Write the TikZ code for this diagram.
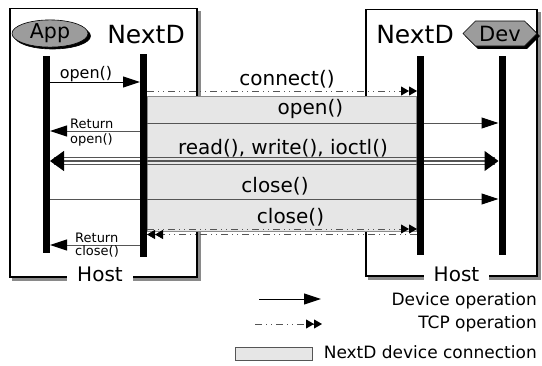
\documentclass[tikz,border=0pt]{standalone}
\usepackage{fontspec}
\setmainfont{DejaVu Sans}
\usetikzlibrary{arrows.meta,shapes.geometric,shapes.symbols,shadows}
\pgfdeclarelayer{fg}
\pgfsetlayers{main,fg}
\definecolor{connfill}{HTML}{E6E6E6}
\definecolor{connedge}{HTML}{8C8C8C}
\definecolor{msggray}{HTML}{555555}
\definecolor{actorfill}{HTML}{9C9C9C}
\definecolor{shadowgray}{HTML}{8A8A8A}
\tikzset{
  lifeline/.style={fill=black, draw=none, inner sep=0pt, outer sep=0pt, minimum width=7pt},
  hostshadow/.style={fill=shadowgray, draw=shadowgray, line width=1.5pt, inner sep=0pt},
  hostbox/.style={draw=black, line width=1.5pt, fill=white, inner sep=0pt},
  hostlabel/.style={fill=white, inner xsep=10pt, inner ysep=1.5pt, anchor=base,
    font=\fontsize{20}{24}\selectfont},
  procname/.style={anchor=base, inner sep=0pt, font=\fontsize{25}{30}\selectfont},
  actorshadow/.style={fill=black, draw=black, line width=0.6pt, inner sep=0pt},
  actor/.style={draw=black, line width=0.6pt, fill=actorfill, inner sep=0pt},
  connbox/.style={draw=connedge, line width=0.8pt, fill=connfill, inner sep=0pt},
  devop/.style={draw=msggray, line width=1pt, arrows={-Triangle[length=17pt,width=11pt,color=black]}},
  tcpop/.style={draw=msggray, line width=0.8pt,
    dash pattern=on 7pt off 4pt on 1pt off 4pt on 1pt off 4pt,
    arrows={-Triangle[length=8pt,width=9pt,color=black]Triangle[length=8pt,width=9pt,color=black]}},
  rwline/.style={draw=msggray, line width=1.2pt},
  rwtips/.style={arrows={Triangle[length=14pt,width=20pt,color=black]-Triangle[length=14pt,width=20pt,color=black]}},
  msglbl/.style={anchor=base, inner sep=0pt, font=\fontsize{20}{24}\selectfont},
  smalllbl/.style={anchor=base, inner sep=0pt, font=\fontsize{16}{19}\selectfont},
  retlbl/.style={anchor=base west, inner sep=0pt, font=\fontsize{13}{15}\selectfont},
  legendlbl/.style={anchor=base east, inner sep=0pt, font=\fontsize{17}{20}\selectfont},
}
\begin{document}
\begin{tikzpicture}[x=1pt,y=-1pt]
\useasboundingbox (0,0) rectangle (542,365);
% host boxes with shadows
\node[hostshadow, minimum width=187pt, minimum height=268.5pt] (hostLsh) at (106.5,145.75) {};
\node[hostshadow, minimum width=171pt, minimum height=266.5pt] (hostRsh) at (454.5,145.75) {};
\node[hostbox, minimum width=187pt, minimum height=268.5pt] (hostL) at (103.5,142.75) {};
\node[hostbox, minimum width=171pt, minimum height=266.5pt] (hostR) at (451.5,142.75) {};
% NextD connection area
\node[connbox, minimum width=269pt, minimum height=135pt] (conn) at (281.5,163.5) {};
% lifelines
\begin{pgfonlayer}{fg}
\node[lifeline, minimum height=197pt] (app) at (46.5,154.5) {};
\node[lifeline, minimum height=203pt] (nl) at (143.5,155.5) {};
\node[lifeline, minimum height=199pt] (nr) at (420.5,155.5) {};
\node[lifeline, minimum height=199pt] (dev) at (502,155.5) {};
\end{pgfonlayer}
% actors with shadows
\node[actorshadow, ellipse, minimum width=76pt, minimum height=26pt] (appsh) at (52.5,36) {};
\node[actor, ellipse, minimum width=76pt, minimum height=26pt, font=\fontsize{20.5}{24}\selectfont] (appact) at (50,33.5) {App};
\node[actorshadow, signal, signal to=west and east, minimum width=74pt, minimum height=25pt] (devsh) at (502.5,36) {};
\node[actor, signal, signal to=west and east, minimum width=74pt, minimum height=25pt, font=\fontsize{21}{25}\selectfont] (devact) at (500,33.5) {Dev};
\node[procname] (nextdL) at (146,43) {NextD};
\node[procname] (nextdR) at (415,43) {NextD};
% message rows
\coordinate (m1) at (0,82);
\coordinate (m2) at (0,91);
\coordinate (m3) at (0,123);
\coordinate (m4) at (0,131);
\coordinate (r1) at (0,157.5);
\coordinate (r2) at (0,161);
\coordinate (r3) at (0,164.5);
\coordinate (m6) at (0,199);
\coordinate (m7) at (0,229);
\coordinate (m8) at (0,234.5);
\coordinate (m9) at (0,245);
% messages
\draw[devop, draw=black] (app.east |- m1) -- (nl.west |- m1);
\node[smalllbl] (lopen1) at (86,78) {open()};
\draw[tcpop] (nl.east |- m2) -- (nr.west |- m2);
\node[msglbl] (lconnect) at (287,85) {connect()};
\draw[devop] (nl.east |- m3) -- (dev.west |- m3);
\node[msglbl] (lopen2) at (310.5,114.5) {open()};
\draw[devop] (nl.west |- m4) -- (app.east |- m4);
\node[retlbl] (lret1a) at (70,128) {Return};
\node[retlbl] (lret1b) at (70,143) {open()};
\draw[rwline, shorten <=4pt, shorten >=4pt] (app.east |- r1) -- (dev.west |- r1);
\draw[rwline, shorten <=4pt, shorten >=4pt] (app.east |- r3) -- (dev.west |- r3);
\draw[rwline, rwtips] (app.east |- r2) -- (dev.west |- r2);
\node[msglbl] (lrw) at (283,154) {read(), write(), ioctl()};
\draw[devop] (app.east |- m6) -- (dev.west |- m6);
\node[msglbl] (lclose1) at (275,192) {close()};
\draw[tcpop] (nl.east |- m7) -- (nr.west |- m7);
\draw[tcpop] (nr.west |- m8) -- (nl.east |- m8);
\node[msglbl] (lclose2) at (290.5,223) {close()};
\draw[devop] (nl.west |- m9) -- (app.east |- m9);
\node[retlbl] (lret2a) at (75,242) {Return};
\node[retlbl] (lret2b) at (75,255.5) {close()};
% host labels
\node[hostlabel] (hostLlbl) at (100,281) {Host};
\node[hostlabel] (hostRlbl) at (456.5,281) {Host};
% legend
\coordinate (lgA1) at (259,299);
\coordinate (lgA2) at (321,299);
\draw[devop, draw=black] (lgA1) -- (lgA2);
\node[legendlbl] (lgAlbl) at (537,305) {Device operation};
\coordinate (lgB1) at (255,324);
\coordinate (lgB2) at (322,324);
\draw[tcpop] (lgB1) -- (lgB2);
\node[legendlbl] (lgBlbl) at (537,328.5) {TCP operation};
\node[connbox, draw=msggray, minimum width=77pt, minimum height=13pt] (lgC) at (274,353.5) {};
\node[legendlbl] (lgClbl) at (537,358.5) {NextD device connection};
\end{tikzpicture}
\end{document}
